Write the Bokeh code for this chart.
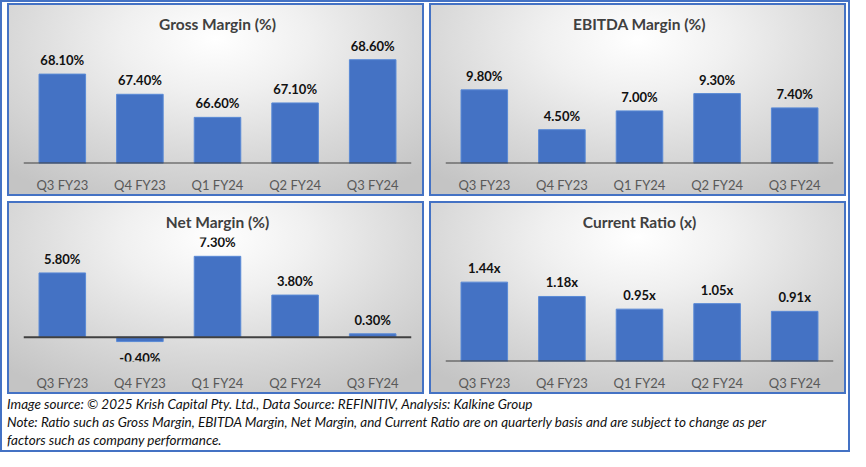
from bokeh.plotting import figure
from bokeh.models import ColumnDataSource, Span, Range1d, Div, LabelSet
from bokeh.layouts import column, row
from bokeh.embed import file_html
from bokeh.resources import INLINE
from bokeh.core.properties import value

quarters = ["Q3 FY23", "Q4 FY23", "Q1 FY24", "Q2 FY24", "Q3 FY24"]
gross_margin = [68.1, 67.4, 66.6, 67.1, 68.6]
ebitda_margin = [9.8, 4.5, 7.0, 9.3, 7.4]
net_margin = [5.8, -0.4, 7.3, 3.8, 0.3]
current_ratio = [1.44, 1.18, 0.95, 1.05, 0.91]

FONT = "Lato"
BLUE = "#4472C4"
PANEL_W, PANEL_H = 417, 193

panel_css = {
    "box-sizing": "border-box",
    "border": "2px solid #4472C4",
    "background": "radial-gradient(ellipse 75% 95% at 50% 18%, #ffffff 0%, #f0f0f0 30%, #d9d9d9 65%, #c4c4c4 100%)",
}


def make_panel(title, vals, suffix, y0, y1, base, margin):
    labels = [f"{v:.2f}{suffix}" for v in vals]
    pos = [v >= 0 for v in vals]
    src_pos = ColumnDataSource(dict(
        x=[q for q, p in zip(quarters, pos) if p],
        top=[v for v, p in zip(vals, pos) if p],
        lab=[l for l, p in zip(labels, pos) if p],
    ))
    src_neg = ColumnDataSource(dict(
        x=[q for q, p in zip(quarters, pos) if not p],
        top=[v for v, p in zip(vals, pos) if not p],
        lab=[l for l, p in zip(labels, pos) if not p],
    ))
    p = figure(x_range=quarters, y_range=Range1d(y0, y1), width=PANEL_W, height=PANEL_H,
               output_backend="svg", toolbar_location=None, title=title,
               min_border_left=14, min_border_right=15, min_border_bottom=35,
               min_border_top=34, margin=margin, styles=panel_css)
    p.background_fill_color = None
    p.border_fill_color = None
    p.outline_line_color = None
    p.grid.visible = False
    p.yaxis.visible = False
    p.title.align = "center"
    p.title.text_font = FONT
    p.title.text_font_size = "15.5px"
    p.title.text_font_style = "bold"
    p.title.text_color = "#404040"
    p.title.padding = 2
    p.title.offset = 0

    xa = p.xaxis[0]
    xa.axis_line_color = None
    xa.major_tick_line_color = None
    xa.minor_tick_line_color = None
    xa.major_tick_out = 0
    xa.major_tick_in = 0
    xa.major_label_standoff = 13
    xa.major_label_text_font = FONT
    xa.major_label_text_font_size = "13px"
    xa.major_label_text_color = "#595959"

    for src in (src_pos, src_neg):
        p.vbar(x="x", top="top", bottom=base, width=0.6, source=src,
               fill_color=BLUE, line_color="#5a8ad6", line_width=1)
    p.add_layout(Span(location=base, dimension="width", line_color="#404040", line_width=2))

    p.add_layout(LabelSet(x="x", y="top", text="lab", source=src_pos, text_align="center",
                          text_baseline="alphabetic", y_offset=9, text_font=value(FONT),
                          text_font_size="13px", text_font_style="bold", text_color="#111111"))
    p.add_layout(LabelSet(x="x", y="top", text="lab", source=src_neg, text_align="center",
                          text_baseline="alphabetic", y_offset=-21, text_font=value(FONT),
                          text_font_size="13px", text_font_style="bold", text_color="#111111"))
    return p


p1 = make_panel("Gross Margin (%)", gross_margin, "%", 65.0, 69.3, 65.0, (1, 0, 0, 5))
p2 = make_panel("EBITDA Margin (%)", ebitda_margin, "%", 0.0, 16.5, 0.0, (1, 2, 0, 5))
p3 = make_panel("Net Margin (%)", net_margin, "%", -2.2, 9.0, 0.0, (5, 0, 0, 5))
p4 = make_panel("Current Ratio (x)", current_ratio, "x", 0.0, 2.25, 0.0, (5, 2, 0, 5))

footer = Div(
    text=("Image source: © 2025 Krish Capital Pty. Ltd., Data Source: REFINITIV, Analysis: Kalkine Group<br>"
          "Note: Ratio such as Gross Margin, EBITDA Margin, Net Margin, and Current Ratio are on quarterly basis "
          "and are subject to change as per<br>factors such as company performance."),
    width=836, height=55, margin=(1, 0, 0, 5),
    styles={"font-family": "Lato", "font-style": "italic", "font-size": "13.5px",
            "line-height": "18px", "color": "#111111"},
)

layout = column(row(p1, p2), row(p3, p4), footer,
                styles={"border": "2px solid #4472C4", "box-sizing": "border-box"})

html = file_html(layout, INLINE)
open("out.html", "w").write(html)
